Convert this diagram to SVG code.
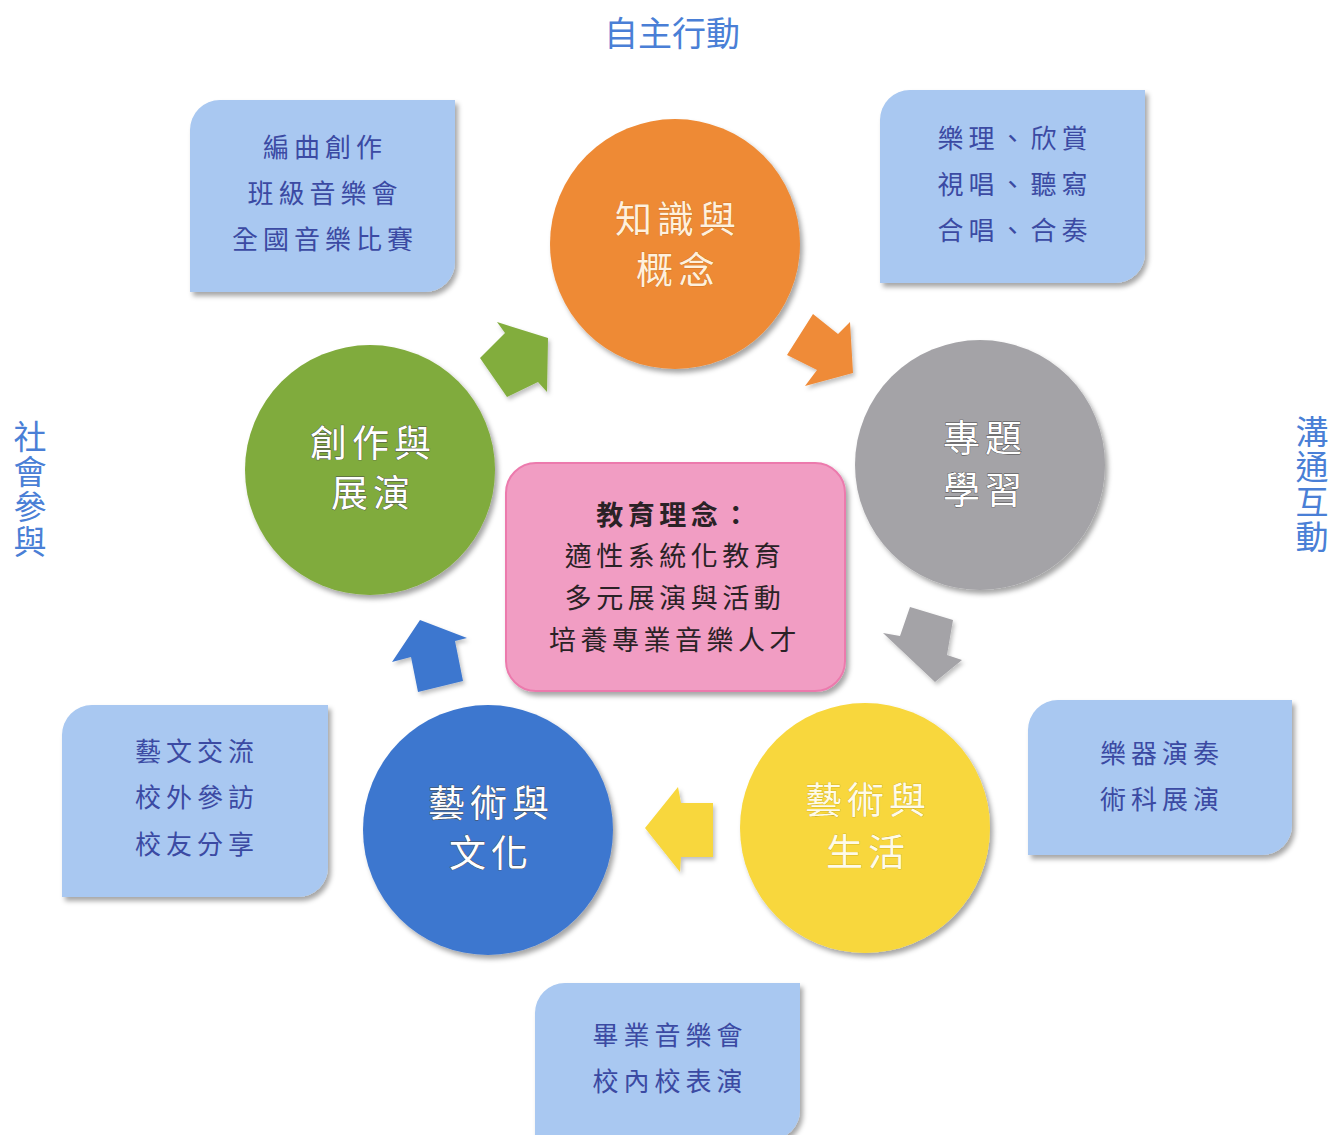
<svg xmlns="http://www.w3.org/2000/svg" width="1343" height="1135" viewBox="0 0 1343 1135">
<style>
.title{font-family:"Noto Sans CJK TC","Noto Sans CJK SC",sans-serif;font-size:34px;fill:#4a7fd6;text-anchor:middle}
.vt{font-family:"Noto Sans CJK TC","Noto Sans CJK SC",sans-serif;font-size:33px;fill:#4a7fd6;writing-mode:vertical-rl;letter-spacing:2px}
.box{fill:#a9c8f1;filter:url(#sh)}
.bt{font-family:"Noto Sans CJK TC","Noto Sans CJK SC",serif;font-size:26px;fill:#3b4aa3;text-anchor:middle;letter-spacing:5px}
.ct{font-family:"Noto Sans CJK TC","Noto Sans CJK SC",serif;font-size:37px;text-anchor:middle;letter-spacing:5px;fill:#ffffff;stroke:#4a4a4a;stroke-width:0.8;paint-order:stroke}
.pt{font-family:"Noto Sans CJK TC","Noto Sans CJK SC",serif;font-size:27px;fill:#2a2226;text-anchor:middle;letter-spacing:4.5px}
.circ{filter:url(#sh)}
.arr{filter:url(#sh2)}
</style>
<defs>
<filter id="sh" x="-10%" y="-10%" width="125%" height="125%">
<feDropShadow dx="3" dy="4" stdDeviation="2.5" flood-color="#000" flood-opacity="0.35"/>
</filter>
<filter id="sh2" x="-20%" y="-20%" width="150%" height="150%">
<feDropShadow dx="2" dy="3" stdDeviation="2" flood-color="#000" flood-opacity="0.25"/>
</filter>
</defs>
<rect width="1343" height="1135" fill="#ffffff"/>

<g id="labels">
<text class="title" x="672" y="46">自主行動</text>
<text class="vt" x="30" y="420">社會參與</text>
<text class="vt" x="1312" y="415">溝通互動</text>
</g>

<g id="box-tl">
<path class="box" d="M220,100 H455 V262 A30,30 0 0 1 425,292 H190 V130 A30,30 0 0 1 220,100 Z"/>
<text class="bt" x="325" y="157">編曲創作</text>
<text class="bt" x="325" y="203">班級音樂會</text>
<text class="bt" x="325" y="249">全國音樂比賽</text>
</g>
<g id="box-tr">
<path class="box" d="M910,90 H1145 V253 A30,30 0 0 1 1115,283 H880 V120 A30,30 0 0 1 910,90 Z"/>
<text class="bt" x="1015" y="148">樂理、欣賞</text>
<text class="bt" x="1015" y="194">視唱、聽寫</text>
<text class="bt" x="1015" y="240">合唱、合奏</text>
</g>
<g id="box-r">
<path class="box" d="M1058,700 H1292 V825 A30,30 0 0 1 1262,855 H1028 V730 A30,30 0 0 1 1058,700 Z"/>
<text class="bt" x="1162" y="763">樂器演奏</text>
<text class="bt" x="1162" y="809">術科展演</text>
</g>
<g id="box-l">
<path class="box" d="M92,705 H328 V867 A30,30 0 0 1 298,897 H62 V735 A30,30 0 0 1 92,705 Z"/>
<text class="bt" x="197" y="761">藝文交流</text>
<text class="bt" x="197" y="807">校外參訪</text>
<text class="bt" x="197" y="854">校友分享</text>
</g>
<g id="box-b">
<path class="box" d="M565,983 H800 V1110 A30,30 0 0 1 770,1140 H535 V1013 A30,30 0 0 1 565,983 Z"/>
<text class="bt" x="670" y="1045">畢業音樂會</text>
<text class="bt" x="670" y="1091">校內校表演</text>
</g>

<g id="center">
<rect x="506" y="463" width="339" height="228" rx="30" fill="#f19dc3" stroke="#ec7aad" stroke-width="2" filter="url(#sh)"/>
<text class="pt" x="675" y="525" font-weight="bold">教育理念：</text>
<text class="pt" x="675" y="566">適性系統化教育</text>
<text class="pt" x="675" y="608">多元展演與活動</text>
<text class="pt" x="675" y="650">培養專業音樂人才</text>
</g>

<g id="node-knowledge">
<circle class="circ" cx="675" cy="244" r="125" fill="#ee8a35"/>
<text class="ct" x="678" y="233" style="fill:#fff0dc;stroke:#b8651c;stroke-width:0.5">知識與</text>
<text class="ct" x="678" y="284" style="fill:#fff0dc;stroke:#b8651c;stroke-width:0.5">概念</text>
</g>
<g id="node-project">
<circle class="circ" cx="980" cy="465" r="125" fill="#a4a3a7"/>
<text class="ct" x="985" y="452">專題</text>
<text class="ct" x="985" y="504">學習</text>
</g>
<g id="node-life">
<circle class="circ" cx="865" cy="828" r="125" fill="#f8d73c"/>
<text class="ct" x="868" y="814" style="fill:#fffbe8;stroke:#b89a10;stroke-width:0.5">藝術與</text>
<text class="ct" x="868" y="866" style="fill:#fffbe8;stroke:#b89a10;stroke-width:0.5">生活</text>
</g>
<g id="node-culture">
<circle class="circ" cx="488" cy="830" r="125" fill="#3e77cf"/>
<text class="ct" x="491" y="817">藝術與</text>
<text class="ct" x="491" y="867">文化</text>
</g>
<g id="node-create">
<circle class="circ" cx="370" cy="470" r="125" fill="#80ab3c"/>
<text class="ct" x="373" y="457">創作與</text>
<text class="ct" x="373" y="507">展演</text>
</g>

<g id="connectors">
<polygon class="arr" points="548,338 547,392 538,382 507,397 480,358 505,333 497,322" fill="#82ad3e"/>
<polygon class="arr" points="813,314 838,334 850,322 853,373 805,386 817,370 787,355" fill="#ef8b38"/>
<polygon class="arr" points="910,607 953,620 947,655 962,660 935,682 883,633 900,636" fill="#a4a3a7"/>
<polygon class="arr" points="645,828 678,787 681,803 713,803 713,857 681,857 680,872" fill="#f8d73c"/>
<polygon class="arr" points="420,620 467,638 455,641 463,681 418,692 411,657 392,662" fill="#3e77cf"/>
</g>
</svg>
